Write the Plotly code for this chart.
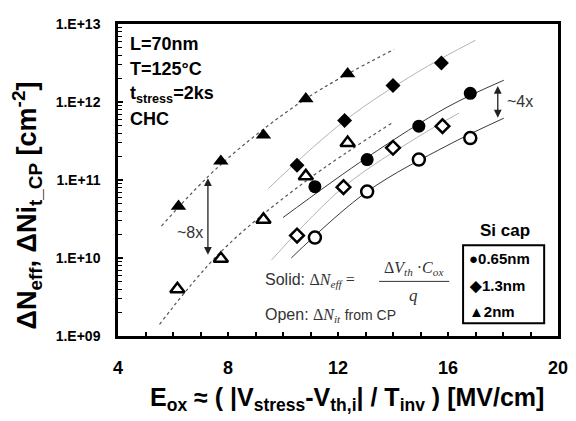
import math
import plotly.graph_objects as go

# ---------------- data ----------------
# 0.65 nm Si cap
x_065 = [11.16, 13.06, 14.94, 16.81]
neff_065 = [8.2e10, 1.83e11, 4.9e11, 1.29e12]
nit_065 = [1.83e10, 7.1e10, 1.83e11, 3.45e11]
# 1.3 nm Si cap
x_13 = [10.51, 12.24, 14.0, 15.76]
neff_13 = [1.55e11, 5.8e11, 1.63e12, 3.16e12]
x_13_open = [10.51, 12.2, 14.0, 15.8]
nit_13 = [1.94e10, 8.1e10, 2.59e11, 4.9e11]
# 2 nm Si cap
x_2 = [6.2, 7.74, 9.29, 10.83, 12.35]
neff_2 = [4.6e10, 1.74e11, 3.76e11, 1.1e12, 2.3e12]
x_2_open = [6.16, 7.74, 9.29, 10.83, 12.35]
nit_2 = [4.0e9, 9.8e9, 3.1e10, 1.12e11, 3.0e11]

# guide (fit) curves
fit2_eff_x = [5.58, 7.74, 10.83, 14.04]
fit2_eff_y = [2.57e10, 1.58e11, 1.1e12, 4.73e12]
fit2_it_x = [5.51, 7.74, 10.8, 14.04]
fit2_it_y = [1.41e9, 1.2e10, 9.5e10, 5.6e11]
fit13_eff_x = [9.47, 12.24, 14.88, 17.0]
fit13_eff_y = [7.8e10, 5.75e11, 2.4e12, 6.2e12]
fit13_it_x = [9.58, 12.2, 14.9, 16.4]
fit13_it_y = [9.4e9, 8.1e10, 3.55e11, 7.2e11]
fit065_eff_x = [10.0, 13.06, 16.0, 18.03]
fit065_eff_y = [3.3e10, 1.95e11, 8.7e11, 1.9e12]
fit065_it_x = [10.3, 13.06, 16.0, 18.03]
fit065_it_y = [1.0e10, 7.1e10, 2.8e11, 6.2e11]

x_ticks = [4, 8, 12, 16, 20]
y_tickvals = [1e9, 1e10, 1e11, 1e12, 1e13]
y_ticktext = ["1.E+09", "1.E+10", "1.E+11", "1.E+12", "1.E+13"]
legend_labels = ["0.65nm", "1.3nm", "2nm"]

# ---------------- figure ----------------
fig = go.Figure()

DARK = "#3a3a3a"
LIGHT = "#b4b4b4"
DOT = "#555555"

def add_line(x, y, color, dash, width=1.0):
    fig.add_trace(go.Scatter(x=x, y=y, mode="lines",
                             line=dict(color=color, dash=dash, width=width, shape="spline", smoothing=1.0),
                             showlegend=False, hoverinfo="skip"))

add_line(fit2_eff_x, fit2_eff_y, DOT, "dot", 1.2)
add_line(fit2_it_x, fit2_it_y, DOT, "dot", 1.2)
add_line(fit13_eff_x, fit13_eff_y, LIGHT, "solid")
add_line(fit13_it_x, fit13_it_y, LIGHT, "solid")
add_line(fit065_eff_x, fit065_eff_y, DARK, "solid")
add_line(fit065_it_x, fit065_it_y, DARK, "solid")

def add_pts(x, y, symbol, size, solid, name):
    if solid:
        mk = dict(symbol=symbol, size=size, color="black", line=dict(width=0))
    else:
        mk = dict(symbol=symbol, size=size, color="white", line=dict(color="black", width=2.5))
    fig.add_trace(go.Scatter(x=x, y=y, mode="markers", marker=mk, name=name, showlegend=False))

add_pts(x_2_open, nit_2, "triangle-up", 12.5, False, "2nm open")
add_pts(x_2, neff_2, "triangle-up", 13.5, True, "2nm")
add_pts(x_13_open, nit_13, "diamond", 10.5, False, "1.3nm open")
add_pts(x_13, neff_13, "diamond", 11.5, True, "1.3nm")
add_pts(x_065, nit_065, "circle", 12, False, "0.65nm open")
add_pts(x_065, neff_065, "circle", 13, True, "0.65nm")

SANS = "Liberation Sans, Arial, sans-serif"

OFF = 8  # page body margin
W, H = 576 - OFF, 421 - OFF
L, T = 118 - OFF, 16 - OFF
R = W - (563 - OFF)
B = H - (336 - OFF)
PW, PH = W - L - R, H - T - B

def px(xp):
    return (xp - OFF - L) / PW

def py(yp):
    return (H - B - (yp - OFF)) / PH

ann = []
def text(xp, yp, s, size, bold=False, color="black", xanchor="left"):
    ann.append(dict(x=px(xp), y=py(yp), xref="paper", yref="paper", text=("<b>%s</b>" % s) if bold else s,
                    showarrow=False, xanchor=xanchor, yanchor="middle",
                    font=dict(size=size, color=color, family=SANS)))

# condition text
text(128, 36, "L=70nm", 18, True)
text(128, 62, "T=125°C", 18, True)
text(128, 88, "t<sub>stress</sub>=2ks", 18, True)
text(128, 113, "CHC", 18, True)

# formula
sp = "<span style=\"font-family:'Liberation Serif'\">%s</span>"
text(265, 279, "Solid: " + sp % "Δ<i>N</i><sub><i>eff</i></sub> =", 16, color="#333")
text(417, 267, sp % "Δ<i>V</i><sub><i>th</i></sub> ·<i>C</i><sub><i>ox</i></sub>", 16, color="#333", xanchor="center")
text(417, 294, sp % "<i>q</i>", 17, color="#333", xanchor="center")
text(265, 315, "Open: " + sp % "Δ<i>N</i><sub><i>it</i></sub>" + " <span style=\"font-size:14px\">from CP</span>", 16, color="#333")

# legend
text(509, 228, "Si cap", 17, True, xanchor="center")
for lbl, sym, yp in zip(legend_labels, ["●", "◆", "▲"], [257, 284, 311]):
    text(471, yp, sym + lbl, 15, True)

# factor labels
text(206, 230, "~8x", 16, color="#333", xanchor="right")
text(509, 95, "~4x", 16, color="#333")

# arrows (data coords, log units for y)
ann.append(dict(x=7.27, y=math.log10(1.1e10), ax=7.27, ay=math.log10(1.1e11), xref="x", yref="y", axref="x", ayref="y",
                showarrow=True, arrowside="end+start", arrowhead=2, arrowsize=1.2, arrowwidth=1.3, arrowcolor="#222", text=""))
ann.append(dict(x=17.81, y=math.log10(6.3e11), ax=17.81, ay=math.log10(1.68e12), xref="x", yref="y", axref="x", ayref="y",
                showarrow=True, arrowside="end+start", arrowhead=2, arrowsize=1.2, arrowwidth=1.3, arrowcolor="#222", text=""))

# axis titles
ann.append(dict(x=px(350), y=py(401), xref="paper", yref="paper", showarrow=False, xanchor="center", yanchor="middle",
                text="<b>E<sub>ox</sub> ≈ ( |V<sub>stress</sub>-V<sub>th,i</sub>| / T<sub>inv</sub> ) [MV/cm]</b>",
                font=dict(size=25, family=SANS, color="black")))
ann.append(dict(x=px(26), y=py(202), xref="paper", yref="paper", showarrow=False, xanchor="center", yanchor="middle",
                textangle=-90,
                text="<b>ΔN<sub>eff</sub>, ΔNi<sub>t_CP</sub> [cm<sup>-2</sup>]</b>",
                font=dict(size=27, family=SANS, color="black")))

shapes = [
    dict(type="rect", xref="paper", yref="paper", x0=px(467), x1=px(549), y0=py(323), y1=py(243),
         line=dict(color="black", width=2), fillcolor="white", layer="below"),
    dict(type="line", xref="paper", yref="paper", x0=px(382), x1=px(453), y0=py(280), y1=py(280),
         line=dict(color="#333", width=1)),
]

minor_y = [k * 10 ** d for d in range(9, 13) for k in range(2, 10)]

fig.update_layout(
    width=W, height=H, autosize=False,
    margin=dict(l=L, r=R, t=T, b=B, pad=0),
    paper_bgcolor="white", plot_bgcolor="white",
    showlegend=False,
    annotations=ann, shapes=shapes,
    xaxis=dict(range=[4, 20], tickvals=x_ticks, ticks="inside", ticklen=4, tickwidth=1.5, tickcolor="black",
               showline=True, linewidth=2.5, linecolor="black", mirror=True, showgrid=False, zeroline=False,
               tickfont=dict(size=18, family=SANS, color="black", weight="bold"), ticklabelstandoff=14,
               ticklabeloverflow="allow",
               minor=dict(dtick=1, ticks="inside", ticklen=4, tickwidth=1.5, tickcolor="black", showgrid=False)),
    yaxis=dict(type="log", range=[9, 13], tickvals=y_tickvals, ticktext=y_ticktext, ticks="inside", ticklen=5,
               tickwidth=1.5, tickcolor="black",
               showline=True, linewidth=2.5, linecolor="black", mirror=True, showgrid=False, zeroline=False,
               tickfont=dict(size=14, family=SANS, color="black", weight="bold"), ticklabelstandoff=12,
               ticklabeloverflow="allow",
               minor=dict(tickvals=minor_y, ticks="inside", ticklen=4, tickwidth=1.2, tickcolor="black", showgrid=False)),
)

fig.write_html("out.html")
